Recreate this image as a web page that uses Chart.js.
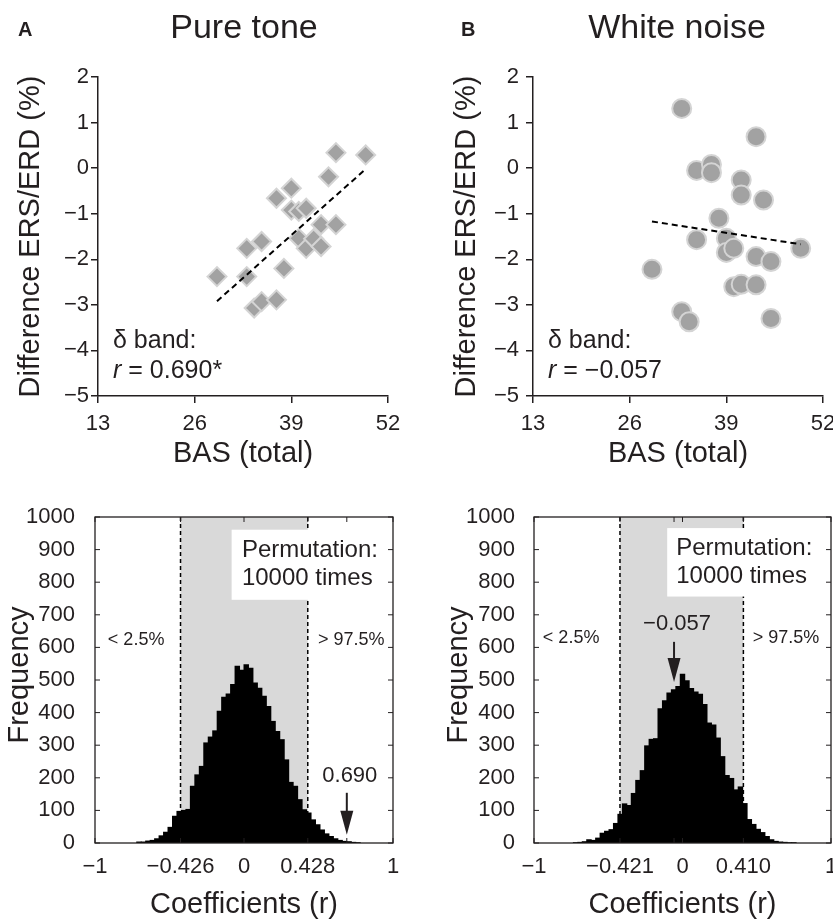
<!DOCTYPE html>
<html>
<head>
<meta charset="utf-8">
<script src="https://cdn.jsdelivr.net/npm/chart.js@4.4.1/dist/chart.umd.min.js"></script>
<style>
  body { margin: 0; background: #fff; }
  #wrap { position: relative; width: 833px; height: 922px; overflow: hidden; }
  canvas { position: absolute; }
</style>
</head>
<body>
<div id="wrap">
  <canvas id="toneScatter" width="416" height="470" style="left:0;top:0"></canvas>
  <canvas id="noiseScatter" width="417" height="470" style="left:416px;top:0"></canvas>
  <canvas id="toneHist" width="416" height="452" style="left:0;top:470px"></canvas>
  <canvas id="noiseHist" width="417" height="452" style="left:416px;top:470px"></canvas>
</div>
<script>
// delta band: BAS total score vs difference ERS/ERD (%)
var basTone  = [45, 49, 44, 39, 37, 39, 40, 41, 43, 45, 40, 41, 42, 43, 33, 35, 38, 29, 33, 34, 35, 37];
var diffTone = [0.34, 0.29, -0.19, -0.44, -0.66, -0.92, -0.95, -0.88, -1.24, -1.24, -1.54, -1.76, -1.55, -1.72, -1.76, -1.61, -2.2, -2.38, -2.38, -3.07, -2.93, -2.89];
var basNoise  = [33, 43, 35, 37, 37, 41, 41, 44, 38, 35, 39, 39, 40, 43, 45, 49, 29, 40, 41, 43, 33, 34, 45];
var diffNoise = [1.31, 0.69, -0.05, 0.08, -0.1, -0.26, -0.59, -0.7, -1.1, -1.57, -1.54, -1.85, -1.76, -1.94, -2.05, -1.76, -2.22, -2.6, -2.55, -2.56, -3.15, -3.37, -3.3];
var fitX = [29, 49];
var fitTone = [-2.92, -0.02];
var fitNoise = [-1.17, -1.67];
var rTone = 0.690;
var rNoise = -0.057;

// permutation null distributions (10000 runs)
var binsTone = [-0.705, -0.675, -0.645, -0.615, -0.585, -0.555, -0.525, -0.495, -0.465, -0.435,
  -0.405, -0.375, -0.345, -0.315, -0.285, -0.255, -0.225, -0.195, -0.165, -0.135,
  -0.105, -0.075, -0.045, -0.015, 0.015, 0.045, 0.075, 0.105, 0.135, 0.165,
  0.195, 0.225, 0.255, 0.285, 0.315, 0.345, 0.375, 0.405, 0.435, 0.465,
  0.495, 0.525, 0.555, 0.585, 0.615, 0.645, 0.675, 0.705, 0.735, 0.765];
var countsTone = [3, 3, 6, 8, 13, 22, 33, 48, 82, 97,
  100, 103, 174, 209, 235, 307, 325, 344, 404, 447,
  457, 486, 542, 530, 547, 536, 491, 475, 450, 419,
  373, 342, 317, 255, 186, 174, 133, 102, 92, 71,
  56, 40, 28, 20, 13, 8, 5, 4, 2, 1];
var binsNoise = [-0.72, -0.69, -0.66, -0.63, -0.6, -0.57, -0.54, -0.51, -0.48, -0.45,
  -0.42, -0.39, -0.36, -0.33, -0.3, -0.27, -0.24, -0.21, -0.18, -0.15,
  -0.12, -0.09, -0.06, -0.03, 0, 0.03, 0.06, 0.09, 0.12, 0.15,
  0.18, 0.21, 0.24, 0.27, 0.3, 0.33, 0.36, 0.39, 0.42, 0.45,
  0.48, 0.51, 0.54, 0.57, 0.6, 0.63, 0.66, 0.69, 0.72, 0.75];
var countsNoise = [1, 2, 4, 10, 8, 15, 30, 36, 41, 60,
  88, 120, 115, 152, 192, 222, 298, 318, 320, 412,
  436, 460, 470, 480, 518, 498, 474, 463, 456, 425,
  368, 362, 322, 265, 207, 198, 163, 172, 121, 72,
  57, 42, 32, 20, 10, 5, 3, 2, 1, 1];
var ciTone = [-0.426, 0.428];
var ciNoise = [-0.421, 0.410];
var histTicksTone = [-1, -0.426, 0, 0.428, 0.690, 1];
var histLabelsTone = ['\u22121', '\u22120.426', '0', '0.428', '', '1'];
var histTicksNoise = [-1, -0.421, -0.057, 0, 0.410, 1];
var histLabelsNoise = ['\u22121', '\u22120.421', '', '0', '0.410', '1'];

var ink = '#231f20';
var sans = "'Liberation Sans', Arial, Helvetica, sans-serif";
Chart.defaults.font.family = sans;
Chart.defaults.color = ink;

function minus(v) { return v < 0 ? '\u2212' + Math.abs(v) : String(v); }
function fmtR(v) { return (v < 0 ? '\u2212' : '') + Math.abs(v).toFixed(3); }
function toPoints(xs, ys) { return xs.map(function (v, i) { return { x: v, y: ys[i] }; }); }
// fixed axis box; end labels may hang past the plot without shrinking it
function fixHeight(h) {
  return function (s) { s.height = h; s.paddingLeft = 0; s.paddingRight = 0; };
}
function fixWidth(w) {
  return function (s) { s.width = w; s.paddingTop = 0; s.paddingBottom = 0; };
}

function scatterText(p) {
  return {
    id: 'scatterText',
    afterDraw: function (chart) {
      var ctx = chart.ctx, a = chart.chartArea;
      ctx.save();
      ctx.fillStyle = ink;
      ctx.textBaseline = 'alphabetic';
      ctx.textAlign = 'left';
      ctx.font = 'bold 20px ' + sans;
      ctx.fillText(p.letter, p.letterX, 36);
      ctx.textAlign = 'center';
      ctx.font = '34px ' + sans;
      ctx.fillText(p.title, p.titleX, 38);
      ctx.font = '29px ' + sans;
      ctx.fillText('BAS (total)', (a.left + a.right) / 2, 462);
      ctx.save();
      ctx.translate(p.yTitleX, (a.top + a.bottom) / 2);
      ctx.rotate(-Math.PI / 2);
      ctx.textBaseline = 'middle';
      ctx.fillText('Difference ERS/ERD (%)', 0, 0);
      ctx.restore();
      // correlation note
      var nx = a.left + 15;
      ctx.textAlign = 'left';
      ctx.font = '25px ' + sans;
      ctx.fillText('\u03b4 band:', nx, 348);
      ctx.font = 'italic 25px ' + sans;
      ctx.fillText('r', nx, 378);
      var w = ctx.measureText('r').width;
      ctx.font = '25px ' + sans;
      ctx.fillText(' = ' + fmtR(p.r) + p.mark, nx + w, 378);
      ctx.restore();
    }
  };
}

function scatterChart(id, p) {
  var axisGrid = { drawOnChartArea: false, tickLength: 7, color: ink, lineWidth: 1.5 };
  var axisBorder = { color: ink, width: 1.5 };
  return new Chart(document.getElementById(id), {
    type: 'scatter',
    data: {
      datasets: [
        { data: toPoints(fitX, p.fit), showLine: true, borderColor: '#000', borderWidth: 2,
          borderDash: [6, 4], pointRadius: 0, order: 0 },
        { data: toPoints(p.bas, p.diff), pointStyle: p.marker, pointRadius: p.radius,
          backgroundColor: '#a2a2a2', borderColor: '#d4d4d4', borderWidth: 2, order: 1 }
      ]
    },
    options: {
      responsive: false, animation: false, events: [],
      layout: { autoPadding: false, padding: p.padding },
      plugins: { legend: { display: false }, tooltip: { enabled: false } },
      scales: {
        x: {
          type: 'linear', min: 13, max: 52,
          afterFit: fixHeight(50),
          ticks: { stepSize: 13, font: { size: 22 }, color: ink, padding: 8, maxRotation: 0 },
          grid: axisGrid, border: axisBorder
        },
        y: {
          min: -5, max: 2,
          afterFit: fixWidth(60),
          ticks: { stepSize: 1, font: { size: 22 }, color: ink, padding: p.yPad, callback: minus },
          grid: axisGrid, border: axisBorder
        }
      }
    },
    plugins: [scatterText(p)]
  });
}

function histDecor(p) {
  return {
    id: 'histDecor',
    beforeDatasetsDraw: function (chart) {
      var ctx = chart.ctx, a = chart.chartArea, x = chart.scales.x, y = chart.scales.y;
      var l = x.getPixelForValue(p.ci[0]), r = x.getPixelForValue(p.ci[1]);
      ctx.save();
      ctx.fillStyle = '#d9d9d9';
      ctx.fillRect(l, a.top, r - l, a.bottom - a.top);
      ctx.strokeStyle = '#000';
      ctx.lineWidth = 1.5;
      ctx.setLineDash([4, 3]);
      [l, r].forEach(function (px) {
        ctx.beginPath(); ctx.moveTo(px, a.top); ctx.lineTo(px, a.bottom); ctx.stroke();
      });
      ctx.setLineDash([]);
      // white backing for the permutation note
      var bx = x.getPixelForValue(p.box[0]), by = y.getPixelForValue(p.box[1]);
      ctx.fillStyle = '#fff';
      ctx.fillRect(bx, by, a.right - 2 - bx, y.getPixelForValue(p.box[2]) - by);
      ctx.restore();
    },
    afterDatasetsDraw: function (chart) {
      var ctx = chart.ctx, a = chart.chartArea, x = chart.scales.x, y = chart.scales.y;
      ctx.save();
      ctx.strokeStyle = ink;
      ctx.lineWidth = 1.3;
      ctx.strokeRect(a.left, a.top, a.right - a.left, a.bottom - a.top);
      // inward tick marks on all four sides
      ctx.lineWidth = 1;
      ctx.beginPath();
      y.ticks.forEach(function (t) {
        var py = y.getPixelForValue(t.value);
        ctx.moveTo(a.left, py); ctx.lineTo(a.left + 5, py);
        ctx.moveTo(a.right, py); ctx.lineTo(a.right - 5, py);
      });
      x.ticks.forEach(function (t) {
        var px = x.getPixelForValue(t.value);
        ctx.moveTo(px, a.top); ctx.lineTo(px, a.top + 5);
        ctx.moveTo(px, a.bottom); ctx.lineTo(px, a.bottom - 5);
      });
      ctx.stroke();

      ctx.fillStyle = ink;
      ctx.textBaseline = 'alphabetic';
      ctx.textAlign = 'center';
      ctx.font = '18px ' + sans;
      ctx.fillText('< 2.5%', x.getPixelForValue(p.lowX), y.getPixelForValue(p.tailY));
      ctx.fillText('> 97.5%', x.getPixelForValue(p.highX), y.getPixelForValue(p.tailY));

      ctx.textAlign = 'left';
      ctx.font = '24px ' + sans;
      ctx.fillText('Permutation:', x.getPixelForValue(p.noteX), y.getPixelForValue(p.noteY[0]));
      ctx.fillText('10000 times', x.getPixelForValue(p.noteX), y.getPixelForValue(p.noteY[1]));

      // arrow marking the observed coefficient
      var ax = x.getPixelForValue(p.r);
      var y0 = y.getPixelForValue(p.arrowY[0]), y1 = y.getPixelForValue(p.arrowY[1]);
      ctx.lineWidth = 2;
      ctx.beginPath(); ctx.moveTo(ax, y0); ctx.lineTo(ax, y1 - 20); ctx.stroke();
      ctx.beginPath();
      ctx.moveTo(ax - 6.5, y1 - 24); ctx.lineTo(ax + 6.5, y1 - 24); ctx.lineTo(ax, y1);
      ctx.closePath(); ctx.fill();
      ctx.textAlign = 'center';
      ctx.font = '22px ' + sans;
      ctx.fillText(fmtR(p.r), ax + 3, y.getPixelForValue(p.labelY));

      ctx.font = '29px ' + sans;
      ctx.fillText('Coefficients (r)', (a.left + a.right) / 2, 443);
      ctx.save();
      ctx.translate(p.yTitleX, 205);
      ctx.rotate(-Math.PI / 2);
      ctx.textBaseline = 'middle';
      ctx.fillText('Frequency', 0, 0);
      ctx.restore();
      ctx.restore();
    }
  };
}

function histChart(id, p) {
  return new Chart(document.getElementById(id), {
    type: 'bar',
    data: {
      datasets: [{
        data: toPoints(p.bins, p.counts), backgroundColor: '#000', borderWidth: 0,
        barPercentage: 1, categoryPercentage: 1, inflateAmount: 0.5
      }]
    },
    options: {
      responsive: false, animation: false, events: [],
      layout: { autoPadding: false, padding: p.padding },
      plugins: { legend: { display: false }, tooltip: { enabled: false } },
      scales: {
        x: {
          type: 'linear', min: -1, max: 1, offset: false,
          afterBuildTicks: function (s) { s.ticks = p.ticks.map(function (v) { return { value: v }; }); },
          afterFit: fixHeight(50),
          ticks: { font: { size: 22 }, color: ink, padding: 3, maxRotation: 0, autoSkip: false,
                   callback: function (v, i) { return p.tickLabels[i]; } },
          grid: { display: false }, border: { display: false }
        },
        y: {
          min: 0, max: 1000,
          afterFit: fixWidth(85),
          ticks: { stepSize: 100, font: { size: 22 }, color: ink, padding: p.yPad,
                   callback: function (v) { return String(v); } },
          grid: { display: false }, border: { display: false }
        }
      }
    },
    plugins: [histDecor(p)]
  });
}

scatterChart('toneScatter', {
  bas: basTone, diff: diffTone, fit: fitTone, r: rTone, mark: '*',
  marker: 'rectRot', radius: 9.5, letter: 'A', letterX: 18, title: 'Pure tone', titleX: 244,
  yTitleX: 31, yPad: 2, padding: { left: 38, right: 28, top: 77, bottom: 24 }
});
scatterChart('noiseScatter', {
  bas: basNoise, diff: diffNoise, fit: fitNoise, r: rNoise, mark: '',
  marker: 'circle', radius: 9.5, letter: 'B', letterX: 45, title: 'White noise', titleX: 261,
  yTitleX: 51, yPad: 7, padding: { left: 57, right: 10, top: 77, bottom: 24 }
});
histChart('toneHist', {
  bins: binsTone, counts: countsTone, ci: ciTone, r: rTone,
  ticks: histTicksTone, tickLabels: histLabelsTone,
  lowX: -0.724, highX: 0.72, tailY: 608, noteX: -0.014, noteY: [878, 792],
  box: [-0.083, 961, 746], arrowY: [154, 25], labelY: 187,
  yTitleX: 20, yPad: 12, padding: { left: 10, right: 23, top: 47, bottom: 29 }
});
histChart('noiseHist', {
  bins: binsNoise, counts: countsNoise, ci: ciNoise, r: rNoise,
  ticks: histTicksNoise, tickLabels: histLabelsNoise,
  lowX: -0.75, highX: 0.697, tailY: 614, noteX: -0.042, noteY: [884, 798],
  box: [-0.103, 966, 756], arrowY: [617, 494], labelY: 653,
  yTitleX: 43, yPad: 11, padding: { left: 33, right: 2, top: 47, bottom: 29 }
});
</script>
</body>
</html>
